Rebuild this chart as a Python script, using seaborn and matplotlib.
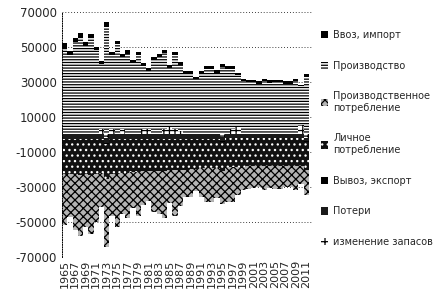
import matplotlib
matplotlib.use("Agg")
import numpy as np
import pandas as pd
import matplotlib.pyplot as plt
from matplotlib.patches import Patch
import seaborn as sns

years = [1965, 1966, 1967, 1968, 1969, 1970, 1971, 1972, 1973, 1974, 1975, 1976,
         1977, 1978, 1979, 1980, 1981, 1982, 1983, 1984, 1985, 1986, 1987, 1988,
         1989, 1990, 1991, 1992, 1993, 1994, 1995, 1996, 1997, 1998, 1999, 2000,
         2001, 2002, 2003, 2004, 2005, 2006, 2007, 2008, 2009, 2010, 2011]

# supply side
imports = [2500, 2000, 2300, 2300, 2300, 2000, 2000, 1800, 2300, 2000, 2000, 1800,
           2000, 1500, 1800, 1500, 1500, 2000, 1500, 1500, 1500, 1500, 1500, 1500,
           1500, 1200, 1200, 1500, 1500, 1500, 1500, 1500, 1500, 1200, 1500, 1500,
           1200, 1500, 1500, 1500, 1500, 1500, 1500, 1500, 1500, 1000, 2000]
production = [49500, 45500, 52500, 55700, 50600, 55100, 48000, 37000, 61900, 42000, 51300, 41000,
              46100, 40800, 45200, 36100, 33400, 42200, 44100, 43600, 34000, 42500, 37700, 34500,
              34500, 31300, 34800, 37400, 37400, 35100, 38400, 37400, 34400, 29800, 30300, 29700,
              29600, 28700, 30300, 29300, 29700, 29700, 28700, 28700, 30300, 22300, 32700]
stock_in = [0, 0, 0, 0, 0, 0, 0, 3000, 0, 3000, 0, 3000,
            0, 0, 0, 3000, 3000, 0, 0, 3000, 4000, 3000, 2000, 0,
            0, 0, 0, 0, 0, 0, 0, 0, 3000, 4000, 0, 0,
            0, 0, 0, 0, 0, 0, 0, 0, 0, 5000, 0]

# use side (magnitudes, drawn below zero)
prod_cons = [29000, 25000, 31800, 34500, 29900, 33600, 27500, 19800, 38700, 24500, 30800, 23800,
             26100, 20800, 25500, 19600, 16900, 23200, 24600, 27100, 19000, 26500, 20700, 15500,
             16000, 12500, 16700, 19600, 19600, 17300, 19100, 20100, 20100, 16200, 13000, 12900,
             12500, 11900, 13500, 12500, 12900, 12900, 11900, 11900, 13500, 10000, 14400]
personal = [20000, 19500, 20000, 20500, 20000, 20500, 19500, 19000, 20000, 19500, 19500, 19000,
            19000, 18500, 18500, 18000, 18000, 18000, 18000, 18000, 17500, 17500, 17500, 17500,
            17000, 17000, 16500, 16500, 16500, 16500, 16500, 16500, 16500, 16500, 16500, 16000,
            16000, 16000, 16000, 16000, 16000, 16000, 16000, 16000, 16000, 16000, 16000]
exports = [500, 500, 500, 500, 500, 500, 500, 500, 500, 500, 500, 500,
           500, 500, 500, 500, 500, 500, 500, 500, 500, 500, 500, 500,
           500, 500, 300, 300, 300, 300, 300, 300, 300, 300, 300, 300,
           300, 300, 300, 300, 300, 300, 300, 300, 300, 300, 300]
losses = [2500, 2500, 2500, 2500, 2500, 2500, 2500, 2500, 3000, 2500, 2500, 2500,
          2500, 2500, 2500, 2500, 2500, 2500, 2500, 2500, 2500, 2500, 2500, 2500,
          2500, 2500, 2500, 2500, 2500, 2500, 2500, 2000, 2000, 2000, 2000, 2000,
          2000, 2000, 2000, 2000, 2000, 2000, 2000, 2000, 2000, 2000, 2000]
stock_out = [0, 0, 0, 0, 0, 0, 0, 0, 2000, 0, 0, 0,
             0, 0, 0, 0, 0, 0, 0, 0, 0, 0, 0, 0,
             0, 0, 0, 0, 0, 0, 1500, 0, 0, 0, 0, 0,
             0, 0, 0, 0, 0, 0, 0, 0, 0, 0, 2000]

series_names = ["Ввоз, импорт", "Производство", "Производственное\nпотребление",
                "Личное\nпотребление", "Вывоз, экспорт", "Потери", "изменение запасов"]
ytick_values = [-70000, -50000, -30000, -10000, 10000, 30000, 50000, 70000]
ytick_labels = ["-70000", "-50000", "-30000", "-10000", "10000", "30000", "50000", "70000"]
xtick_labels = [str(y) for y in years[::2]]

sns.set_style("white")
plt.rcParams["font.family"] = ["DejaVu Sans"]
plt.rcParams["axes.unicode_minus"] = False
plt.rcParams["hatch.linewidth"] = 0.9

cat = [str(y) for y in years]
s_in = np.array(stock_in)
top_prod = s_in + np.array(production)
top_imp = top_prod + np.array(imports)
n1 = np.array(stock_out)
n2 = n1 + np.array(losses)
n3 = n2 + np.array(exports)
n4 = n3 + np.array(personal)
n5 = n4 + np.array(prod_cons)

styles = {
    "imp": dict(color="black", hatch=None, edgecolor="black"),
    "prod": dict(color="white", hatch="------", edgecolor="black"),
    "pcons": dict(color="#b4b4b4", hatch="xxxx", edgecolor="black"),
    "pers": dict(color="#111111", hatch="...", edgecolor="white"),
    "exp": dict(color="black", hatch=None, edgecolor="black"),
    "loss": dict(color="#1a1a1a", hatch=None, edgecolor="#1a1a1a"),
    "stock": dict(color="white", hatch="+++", edgecolor="black"),
}

fig = plt.figure(figsize=(4.44, 2.94), dpi=100)
ax = fig.add_axes([0.14, 0.127, 0.565, 0.833])

layers = [
    (top_imp, "imp"), (top_prod, "prod"), (s_in, "stock"),
    (-n5, "pcons"), (-n4, "pers"), (-n3, "exp"), (-n2, "loss"), (-n1, "stock"),
]
for vals, key in layers:
    st = styles[key]
    kw = dict(edgecolor=st["edgecolor"], linewidth=0)
    if st["hatch"]:
        kw["hatch"] = st["hatch"]
    sns.barplot(x=cat, y=vals, order=cat, color=st["color"], saturation=1,
                width=1.0, errorbar=None, ax=ax, **kw)

ax.set_xlim(-0.5, 47.3)
ax.set_ylim(-70000, 70000)
ax.set_yticks(ytick_values)
ax.set_yticklabels(ytick_labels, fontsize=8.5)
ax.set_xticks(range(0, len(years), 2))
ax.set_xticklabels(xtick_labels, rotation=90, fontsize=8)
ax.tick_params(axis="x", length=0, pad=2)
ax.tick_params(axis="y", length=2, width=0.6, pad=2, color="black")
ax.set_xlabel("")
ax.set_ylabel("")
ax.set_axisbelow(True)
ax.yaxis.grid(True, linestyle=(0, (1, 2.5)), color="black", linewidth=0.6)
for side in ["top", "right", "bottom"]:
    ax.spines[side].set_visible(False)
ax.spines["left"].set_linestyle((0, (1, 1.5)))
ax.spines["left"].set_linewidth(0.7)
ax.spines["left"].set_color("black")

keys = ["imp", "prod", "pcons", "pers", "exp", "loss", "stock"]
handles = []
for k in keys:
    st = styles[k]
    handles.append(Patch(facecolor=st["color"], edgecolor=st["edgecolor"],
                         hatch=st["hatch"], linewidth=0))
fig.legend(handles, series_names, loc="upper left", bbox_to_anchor=(0.722, 0.898),
           frameon=False, fontsize=7, labelspacing=2.12, handlelength=0.8,
           handleheight=0.8, handletextpad=0.5, borderpad=0, borderaxespad=0)

fig.savefig("out.png", dpi=100)
